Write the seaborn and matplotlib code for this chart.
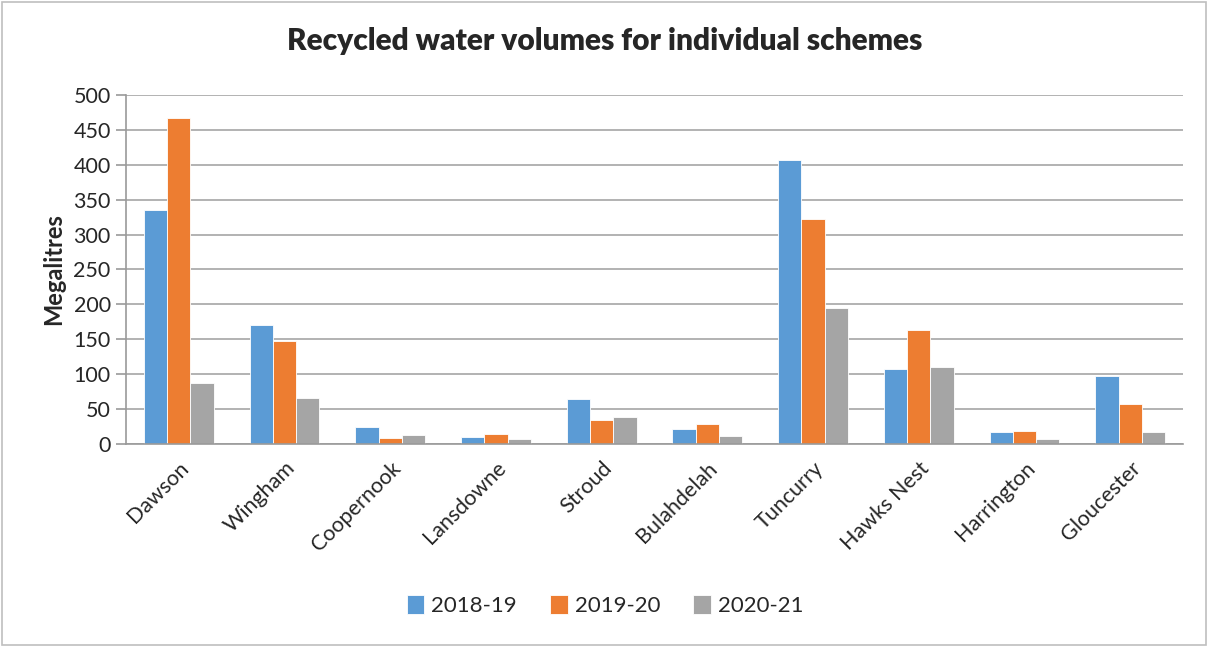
import matplotlib
matplotlib.use("Agg")
import matplotlib.pyplot as plt
import numpy as np
import pandas as pd
import seaborn as sns

# Values (megalitres)
schemes = ['Dawson', 'Wingham', 'Coopernook', 'Lansdowne', 'Stroud',
           'Bulahdelah', 'Tuncurry', 'Hawks Nest', 'Harrington', 'Gloucester']
vol_2018_19 = [335, 171, 25, 10, 64, 22, 407, 108, 17, 98]
vol_2019_20 = [467, 148, 9, 15, 35, 29, 323, 163, 18, 58]
vol_2020_21 = [87, 66, 13, 7, 38, 12, 195, 110, 7, 17]
years = ['2018-19', '2019-20', '2020-21']
colours = ['#5B9BD5', '#ED7D31', '#A5A5A5']

df = pd.DataFrame({'scheme': schemes * 3,
                   'year': np.repeat(years, len(schemes)),
                   'volume': vol_2018_19 + vol_2019_20 + vol_2020_21})

sns.set_theme(style="white")
plt.rcParams['font.family'] = ['Lato', 'DejaVu Sans']

fig = plt.figure(figsize=(12.1, 6.46), dpi=100)
ax = fig.add_axes([0.1041, 0.3127, 0.8736, 0.5403])

sns.barplot(data=df, x='scheme', y='volume', hue='year', palette=colours,
            width=0.66, gap=0, saturation=1, ax=ax, legend=True,
            edgecolor='white', linewidth=0.6)

ax.set_ylim(0, 500)
ax.set_yticks(range(0, 501, 50))
ax.set_xlim(-0.5, len(schemes) - 0.5)
ax.yaxis.grid(True, color='#A6A6A6', linewidth=1.2)
ax.set_axisbelow(True)
for side in ['top', 'right']:
    ax.spines[side].set_visible(False)
for side in ['left', 'bottom']:
    ax.spines[side].set_color('#9A9A9A')
    ax.spines[side].set_linewidth(1.2)
ax.tick_params(axis='y', which='major', left=True, length=7, color='#9A9A9A',
               width=1.2, labelsize=15.5, pad=4)
ax.tick_params(axis='x', bottom=False, labelsize=15.5, pad=4)
plt.setp(ax.get_xticklabels(), rotation=45, ha='right', rotation_mode='anchor')
ax.set_xlabel('')
ax.set_ylabel('Megalitres', fontsize=17, fontweight='bold', labelpad=6)
fig.suptitle('Recycled water volumes for individual schemes', x=0.5, y=0.958,
             fontsize=21.5, fontweight='heavy')

handles, labels = ax.get_legend_handles_labels()
ax.get_legend().remove()
fig.legend(handles, labels, loc='center', bbox_to_anchor=(0.5, 0.063), ncol=3,
           frameon=False, fontsize=16, handlelength=0.8, handleheight=1.0,
           handletextpad=0.3, columnspacing=1.5)

# Chart area border
fig.patches.append(plt.Rectangle((0.002, 0.002), 0.995, 0.995, transform=fig.transFigure,
                                 fill=False, edgecolor='#BFBFBF', linewidth=1.2))

plt.savefig('out.png', dpi=100)
